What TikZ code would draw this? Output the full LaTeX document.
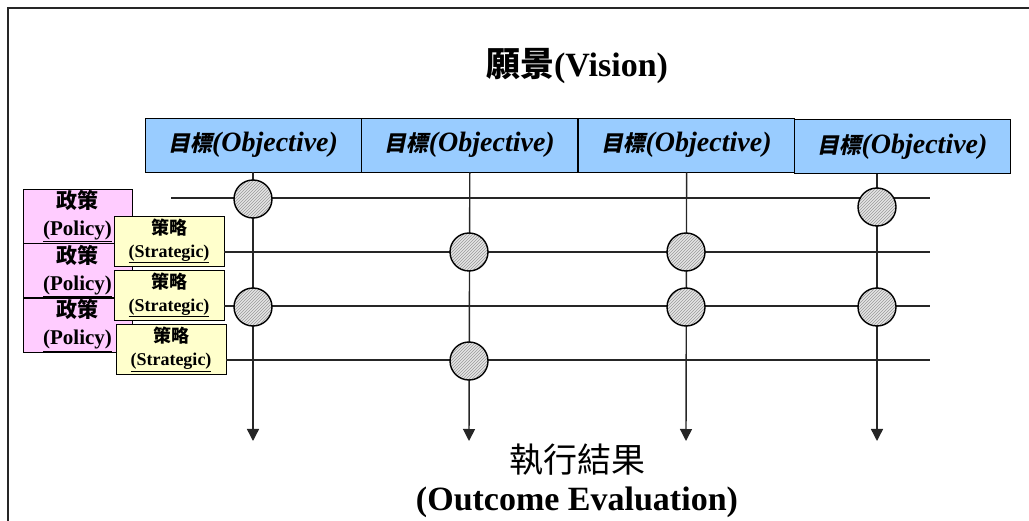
\documentclass[tikz,border=0pt]{standalone}
\usepackage{fontspec}
\setmainfont{Liberation Serif}
\newfontfamily\cjk{Noto Sans CJK TC}
\newfontfamily\cjkit{Noto Sans CJK TC}[FakeSlant=0.2]
\usetikzlibrary{arrows.meta, positioning, patterns}
\definecolor{objblue}{RGB}{153,204,255}
\definecolor{polpink}{RGB}{255,204,255}
\definecolor{stryellow}{RGB}{255,255,204}

\begin{document}
\begin{tikzpicture}[
	% One unit is one pixel of the page, y runs downwards.
	x=1pt, y=-1pt,
	node distance=0pt
	]
	% Styles for the boxes, the crossing points and the lines.
	\tikzset{
		objbox/.style={draw, thick, fill=objblue, minimum width=216pt, minimum height=54pt, inner sep=0pt, font=\bfseries\itshape\fontsize{28}{30}\selectfont},
		polbox/.style={draw, thick, fill=polpink, minimum width=109pt, minimum height=54pt, inner sep=0pt, align=center, font=\bfseries\fontsize{21}{27}\selectfont},
		strbox/.style={draw, thick, fill=stryellow, minimum width=110pt, minimum height=50pt, inner sep=0pt, align=center, font=\bfseries\fontsize{18}{23}\selectfont},
		hub/.style={circle, draw, line width=1.4pt, minimum size=38pt, inner sep=0pt, preaction={fill=gray!20}, pattern=north east lines, pattern color=gray!80},
		line/.style={line width=1.4pt, black!85},
		flow/.style={line width=1.4pt, black!85, -{Triangle[length=12pt, width=12pt]}}
	}
	\useasboundingbox (0,0) rectangle (1029,521);
	
	% === FRAME ===
	\draw[line width=1.5pt, black!85] (8,521) -- (8,8) -- (1029,8);
	
	% === NODES ===
	% Vision on top, then the row of objectives.
	
	\node[font=\bfseries\fontsize{34}{38}\selectfont] (vision) at (577,66) {{\cjk 願景}(Vision)};
	
	\node[objbox] (obj1) at (253,145) {{\cjkit\upshape\fontsize{22}{26}\selectfont 目標}(Objective)};
	\node[objbox, right=of obj1] (obj2) {{\cjkit\upshape\fontsize{22}{26}\selectfont 目標}(Objective)};
	\node[objbox, right=of obj2] (obj3) {{\cjkit\upshape\fontsize{22}{26}\selectfont 目標}(Objective)};
	\node[objbox] (obj4) at (902.5,146.5) {{\cjkit\upshape\fontsize{22}{26}\selectfont 目標}(Objective)};
	
	% Policies on the left, strategies on top of them.
	\node[polbox] (pol1) at (77.5,216) {{\cjk 政策}\\\underline{(Policy)}};
	\node[polbox, below=of pol1] (pol2) {{\cjk 政策}\\\underline{(Policy)}};
	\node[polbox, below=of pol2] (pol3) {{\cjk 政策}\\\underline{(Policy)}};
	
	\node[strbox] (str1) at (169,241) {{\cjk 策略}\\\underline{(Strategic)}};
	\node[strbox] (str2) at (169,295) {{\cjk 策略}\\\underline{(Strategic)}};
	\node[strbox] (str3) at (171,349.5) {{\cjk 策略}\\\underline{(Strategic)}};
	
	\node[align=center, font=\fontsize{34}{38}\selectfont] (outcome) at (577,481) {{\cjk 執行結果}\\\textbf{(Outcome Evaluation)}};
	
	% === CONNECTIONS ===
	% Ends of the rows and of the columns.
	\coordinate (r1s) at (171,198);
	\coordinate (r1e) at (930,198);
	\coordinate (r2e) at (930,252);
	\coordinate (r3e) at (930,306);
	\coordinate (r4e) at (930,360);
	\coordinate (c1e) at (253,441);
	\coordinate (c2e) at (469,441);
	\coordinate (c3e) at (686,441);
	\coordinate (c4e) at (877,441);
	
	\draw[line] (r1s) -- (r1e);
	\draw[line] (str1.east |- r2e) -- (r2e);
	\draw[line] (str2.east |- r3e) -- (r3e);
	\draw[line] (str3.east |- r4e) -- (r4e);
	
	\draw[flow] (obj1.south) -- (c1e);
	\draw[flow] (obj2.south) -- (c2e);
	\draw[flow] (obj3.south) -- (c3e);
	\draw[flow] (obj4.south -| c4e) -- (c4e);
	
	% Crossing points where an objective meets a strategy.
	\node[hub] (h11) at (253,199) {};
	\node[hub] (h13) at (253,307) {};
	\node[hub] (h22) at (469,252) {};
	\node[hub] (h24) at (469,361) {};
	\node[hub] (h32) at (686,252) {};
	\node[hub] (h33) at (686,307) {};
	\node[hub] (h41) at (877,207) {};
	\node[hub] (h43) at (877,307) {};
\end{tikzpicture}
\end{document}
